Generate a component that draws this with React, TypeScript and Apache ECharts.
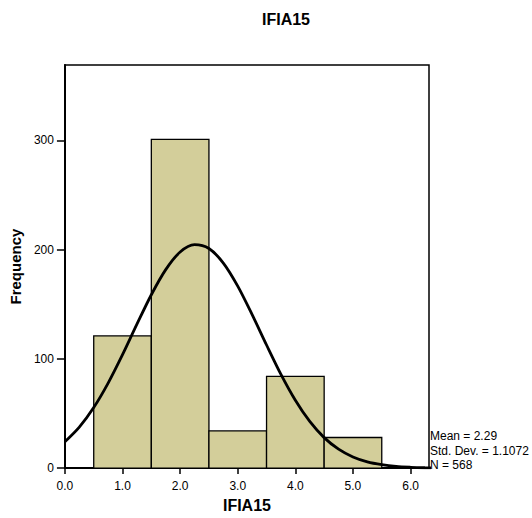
import React, { useEffect, useRef } from "react";
import * as echarts from "echarts";

const binStarts = [0.5, 1.5, 2.5, 3.5, 4.5];
const binEnds = [1.5, 2.5, 3.5, 4.5, 5.5];
const counts = [121, 301, 34, 84, 28];

const curveX = [0, 0.25, 0.5, 0.75, 1.0, 1.25, 1.5, 1.75, 2.0, 2.25, 2.5, 2.75, 3.0, 3.25, 3.5, 3.75, 4.0, 4.25, 4.5, 4.75, 5.0, 5.25, 5.5, 5.75, 6.0, 6.25, 6.5];
const curveY = [24.1, 37.5, 55.4, 77.8, 103.8, 131.7, 158.7, 181.7, 197.8, 204.5, 201.0, 187.7, 166.6, 140.5, 112.7, 85.8, 62.1, 42.7, 27.9, 17.3, 10.2, 5.7, 3.1, 1.5, 0.75, 0.34, 0.14];

const statLines = ["Mean = 2.29", "Std. Dev. = 1.1072", "N = 568"];
const titleText = "IFIA15";
const xName = "IFIA15";
const yName = "Frequency";

const FONT = "'Liberation Sans', Arial, sans-serif";

export default function App() {
  const ref = useRef<HTMLDivElement>(null);
  useEffect(() => {
    if (!ref.current) return;
    const chart = echarts.init(ref.current, null, { renderer: "svg" });
    const barData = binStarts.map((s, i) => [s, binEnds[i], counts[i]]);
    const lineData = curveX.map((x, i) => [x, curveY[i]]);
    chart.setOption({
      animation: false,
      backgroundColor: "#ffffff",
      textStyle: { fontFamily: FONT },
      title: {
        text: titleText,
        left: 281,
        top: 6,
        textAlign: "center",
        textStyle: { fontFamily: FONT, fontSize: 16, fontWeight: "bold", color: "#000" },
      },
      grid: {
        left: 64,
        top: 65,
        right: 103,
        bottom: 48.5,
        show: true,
        borderColor: "#000",
        borderWidth: 1.5,
        backgroundColor: "transparent",
      },
      xAxis: {
        type: "value",
        min: 0,
        max: 6.32,
        interval: 1,
        name: xName,
        nameLocation: "middle",
        nameGap: 25,
        nameTextStyle: { fontFamily: FONT, fontSize: 16, fontWeight: "bold", color: "#000" },
        axisLine: { show: true, lineStyle: { color: "#000", width: 2 } },
        axisTick: { show: true, length: 6, lineStyle: { color: "#000", width: 1.5 } },
        axisLabel: {
          showMaxLabel: false,
          margin: 12,
          fontSize: 12,
          color: "#000",
          fontFamily: FONT,
          formatter: (v: number) => v.toFixed(1),
        },
        splitLine: { show: false },
      },
      yAxis: {
        type: "value",
        min: 0,
        max: 369,
        interval: 100,
        name: yName,
        nameLocation: "middle",
        nameGap: 39,
        nameTextStyle: { fontFamily: FONT, fontSize: 15, fontWeight: "bold", color: "#000" },
        axisLine: { show: true, lineStyle: { color: "#000", width: 2 } },
        axisTick: { show: true, length: 8, lineStyle: { color: "#000", width: 1.5 } },
        axisLabel: {
          showMaxLabel: false,
          margin: 11,
          fontSize: 12,
          color: "#000",
          fontFamily: FONT,
        },
        splitLine: { show: false },
      },
      series: [
        {
          type: "custom",
          data: barData,
          encode: { x: [0, 1], y: 2 },
          renderItem: (params: any, api: any) => {
            const p1 = api.coord([api.value(0), api.value(2)]);
            const p2 = api.coord([api.value(1), 0]);
            return {
              type: "rect",
              shape: { x: p1[0], y: p1[1], width: p2[0] - p1[0], height: p2[1] - p1[1] },
              style: { fill: "#D3CE9A", stroke: "#000", lineWidth: 1.3 },
            };
          },
          z: 2,
        },
        {
          type: "line",
          data: lineData,
          smooth: 0.3,
          showSymbol: false,
          clip: true,
          lineStyle: { color: "#000", width: 2.8 },
          z: 3,
        },
      ],
      graphic: statLines.map((t, i) => ({
        type: "text",
        left: 430,
        top: 430 + i * 14.5,
        style: { text: t, fontSize: 12, fontFamily: FONT, fill: "#000" },
      })),
    });
    return () => chart.dispose();
  }, []);
  return (
    <div
      ref={ref}
      style={{ position: "absolute", left: 0, top: 0, width: 532, height: 518 }}
    />
  );
}
